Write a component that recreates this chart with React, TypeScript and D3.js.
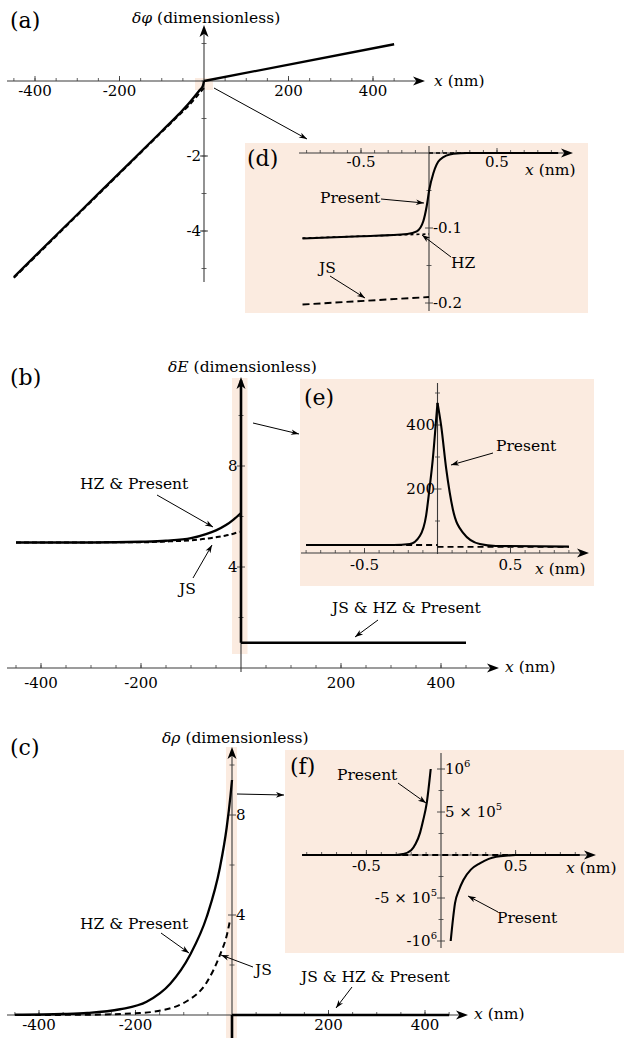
import * as d3 from 'd3';

type Pt = [number, number];

const FONT = "'DejaVu Serif', 'Liberation Serif', serif";
const SHADE = '#fbebe0';
const AXIS = '#3a3a3a';

// ---------- (a) delta phi, x in nm ----------
const phiXTicks = [-400, -200, 200, 400];
const phiYTicks = [-2, -4];
const phiPresentLeft: Pt[] = [
  [-450, -5.23], [-400, -4.67], [-300, -3.56], [-200, -2.45], [-100, -1.34],
  [-60, -0.89], [-40, -0.65], [-20, -0.38], [-10, -0.24], [-3, -0.14], [0, 0],
];
const phiJsLeft: Pt[] = [
  [-450, -5.25], [-300, -3.58], [-200, -2.47], [-100, -1.36], [-60, -0.92],
  [-40, -0.7], [-20, -0.45], [-10, -0.31], [0, -0.19],
];
const phiRight: Pt[] = [[0, 0], [450, 0.98]];

// ---------- (d) inset, x in nm ----------
const dXTicks = [-0.5, 0.5];
const dYTicks = [-0.1, -0.2];
const phiPresentNm: Pt[] = [
  [-0.93, -0.114], [-0.5, -0.111], [-0.16, -0.108], [-0.09, -0.1045], [-0.042, -0.091],
  [-0.017, -0.071], [0.002, -0.049], [0.032, -0.027], [0.08, -0.009], [0.18, -0.001],
  [0.28, 0], [0.95, 0],
];
const phiHzNm: Pt[] = [[-0.93, -0.1135], [0, -0.108]];
const phiHzZeroNm: Pt[] = [[0, 0], [0.3, 0]];
const phiJsNm: Pt[] = [[-0.93, -0.202], [0, -0.192]];

// ---------- (b) delta E ----------
const eXTicks = [-400, -200, 200, 400];
const eYTicks = [4, 8];
const ePresentLeft: Pt[] = [
  [-450, 4.97], [-300, 4.97], [-200, 5.0], [-150, 5.04], [-100, 5.14], [-70, 5.3],
  [-50, 5.45], [-30, 5.66], [-15, 5.88], [0, 6.14],
];
const eJsLeft: Pt[] = [
  [-450, 4.97], [-200, 4.98], [-150, 5.01], [-100, 5.06], [-70, 5.12], [-50, 5.18],
  [-30, 5.25], [-15, 5.32], [-3, 5.4],
];
const eSpike: Pt[] = [[0, 1], [0, 11.4]];
const eRight: Pt[] = [[0, 1], [450, 1]];

// ---------- (e) inset ----------
const eNmXTicks = [-0.5, 0.5];
const eNmYTicks = [200, 400];
const eNmPresentLeft: Pt[] = [
  [-0.9, 25], [-0.3, 25], [-0.19, 28], [-0.12, 54], [-0.078, 117], [-0.055, 200],
  [-0.032, 294], [-0.009, 419], [0, 469],
];
const eNmPresentRight: Pt[] = [
  [0, 469], [0.025, 398], [0.06, 262], [0.105, 137], [0.174, 64], [0.29, 28], [0.4, 22], [0.9, 20],
];
const eNmJsLeft: Pt[] = [[-0.9, 25], [0, 25]];
const eNmJsRight: Pt[] = [[0, 19], [0.9, 19]];

// ---------- (c) delta rho ----------
const rhoXTicks = [-400, -200, 200, 400];
const rhoYTicks = [4, 8];
const rhoPresentLeft: Pt[] = [
  [-450, 0.01], [-350, 0.04], [-300, 0.08], [-232, 0.23], [-177, 0.53], [-128, 1.25],
  [-87, 2.4], [-52, 3.95], [-25, 5.9], [-11, 7.5], [-3, 8.8], [0, 9.4],
];
const rhoJsLeft: Pt[] = [
  [-450, 0], [-300, 0.01], [-250, 0.03], [-200, 0.07], [-163, 0.13], [-94, 0.55],
  [-52, 1.32], [-25, 2.4], [-10, 3.25], [-4, 3.8],
];
const rhoSpike: Pt[] = [[0, 0], [0, -1]];
const rhoRight: Pt[] = [[0, 0], [450, 0]];

// ---------- (f) inset, y in units of 10^6 ----------
const fXTicks = [-0.5, 0.5];
const fYTicks = [1, 0.5, -0.5, -1];
const fYLabels = [['', '6'], ['5 × ', '5'], ['-5 × ', '5'], ['-', '6']];
const rhoNmPresentLeft: Pt[] = [
  [-0.93, 0], [-0.3, 0], [-0.255, 0.01], [-0.2, 0.055], [-0.17, 0.13], [-0.14, 0.26],
  [-0.12, 0.4], [-0.096, 0.6], [-0.069, 1.0],
];
const rhoNmPresentRight: Pt[] = [
  [0.065, -1.0], [0.08, -0.75], [0.094, -0.56], [0.12, -0.41], [0.15, -0.29], [0.2, -0.17],
  [0.26, -0.097], [0.32, -0.045], [0.37, -0.02], [0.45, -0.005], [0.5, 0], [0.93, 0],
];
const rhoNmZero: Pt[] = [[-0.93, 0], [0.93, 0]];

const xA = d3.scaleLinear().domain([0, 200]).range([204, 288.5]);
const yA = d3.scaleLinear().domain([0, -2]).range([81, 156]);
const xD = d3.scaleLinear().domain([0, 0.5]).range([429, 497]);
const yD = d3.scaleLinear().domain([0, -0.1]).range([153, 228]);
const xB = d3.scaleLinear().domain([0, 200]).range([241, 341]);
const yB = d3.scaleLinear().domain([0, 4]).range([668, 567]);
const xE = d3.scaleLinear().domain([0, 0.5]).range([437.5, 510.5]);
const yE = d3.scaleLinear().domain([0, 200]).range([553, 489]);
const xC = d3.scaleLinear().domain([0, 200]).range([232, 328.5]);
const yC = d3.scaleLinear().domain([0, 4]).range([1015, 915]);
const xF = d3.scaleLinear().domain([0, 0.5]).range([441, 515.6]);
const yF = d3.scaleLinear().domain([0, 1]).range([855, 769]);

type Scale = d3.ScaleLinear<number, number>;

const mainMinorX = d3.range(-9, 10).filter((i) => i !== 0).map((i) => i * 50);
const insetMinorX = d3.range(-9, 10).filter((i) => i !== 0).map((i) => i / 10);

// font sizes
const FS_PANEL = 22;
const FS_TITLE = 15.5;
const FS_NOTE = 15.5;
const FS_TICK = 15;

function path(sx: Scale, sy: Scale, data: Pt[], smooth = true) {
  return d3
    .line<Pt>()
    .x((d) => sx(d[0]))
    .y((d) => sy(d[1]))
    .curve(smooth ? d3.curveMonotoneX : d3.curveLinear)(data) || '';
}

function Head({ x, y, angle, len = 12, w = 4.5 }: { x: number; y: number; angle: number; len?: number; w?: number }) {
  return (
    <path
      d={`M0,0 L${-len},${-w} L${-len * 0.72},0 L${-len},${w} Z`}
      transform={`translate(${x},${y}) rotate(${angle})`}
      fill="#000"
    />
  );
}

function Pointer({ x1, y1, x2, y2 }: { x1: number; y1: number; x2: number; y2: number }) {
  const a = (Math.atan2(y2 - y1, x2 - x1) * 180) / Math.PI;
  return (
    <g>
      <line x1={x1} y1={y1} x2={x2} y2={y2} stroke="#000" strokeWidth={1} />
      <Head x={x2} y={y2} angle={a} len={8} w={2.8} />
    </g>
  );
}

function XAxis({
  sx, y, from, to, major, minor, labelY,
}: { sx: Scale; y: number; from: number; to: number; major: number[]; minor: number[]; labelY: number }) {
  return (
    <g>
      <line x1={from} y1={y} x2={to - 6} y2={y} stroke={AXIS} strokeWidth={1.1} />
      <Head x={to} y={y} angle={0} />
      {minor.map((v) => (
        <line key={'m' + v} x1={sx(v)} x2={sx(v)} y1={y} y2={y - 3} stroke={AXIS} strokeWidth={0.8} />
      ))}
      {major.map((v) => (
        <g key={v}>
          <line x1={sx(v)} x2={sx(v)} y1={y} y2={y - 5} stroke={AXIS} strokeWidth={0.9} />
          <text x={sx(v)} y={labelY} dy="0.35em" textAnchor="middle" fontSize={FS_TICK} style={{ fontFamily: FONT }}>
            {String(v)}
          </text>
        </g>
      ))}
    </g>
  );
}

function YAxis({
  sy, x, from, to, arrow, major, minor,
}: { sy: Scale; x: number; from: number; to: number; arrow: boolean; major: number[]; minor: number[] }) {
  return (
    <g>
      <line x1={x} y1={from} x2={x} y2={arrow ? to + 6 : to} stroke={AXIS} strokeWidth={1.1} />
      {arrow && <Head x={x} y={to} angle={-90} />}
      {minor.map((v) => (
        <line key={'m' + v} x1={x - 2.5} x2={x + 2.5} y1={sy(v)} y2={sy(v)} stroke={AXIS} strokeWidth={0.8} />
      ))}
      {major.map((v) => (
        <line key={v} x1={x - 4} x2={x + 4} y1={sy(v)} y2={sy(v)} stroke={AXIS} strokeWidth={0.9} />
      ))}
    </g>
  );
}

function T({
  x, y, size = FS_TITLE, anchor = 'start', children,
}: { x: number; y: number; size?: number; anchor?: string; children: any }) {
  return (
    <text x={x} y={y} dy="0.35em" fontSize={size} textAnchor={anchor as any} style={{ fontFamily: FONT }}>
      {children}
    </text>
  );
}

const I = ({ children }: { children: any }) => <tspan fontStyle="italic">{children}</tspan>;

const solid = { fill: 'none', stroke: '#000', strokeWidth: 2.3, strokeLinejoin: 'round' as const };
const thin = { fill: 'none', stroke: '#000', strokeWidth: 1.9 };

export default function App() {
  return (
    <div style={{ position: 'absolute', left: 0, top: 0 }}>
      <svg width={624} height={1038} style={{ display: 'block', background: '#fff', fontFamily: FONT }}>
        {/* ===== (a) ===== */}
        <rect x={195} y={78} width={18} height={12} fill={SHADE} />
        <XAxis sx={xA} y={81} from={7} to={425} major={phiXTicks} minor={mainMinorX} labelY={91} />
        <YAxis sy={yA} x={204} from={282} to={25} arrow major={phiYTicks} minor={d3.range(-5, 2)} />
        {phiYTicks.map((v) => (
          <T key={v} x={201} y={yA(v)} size={FS_TICK} anchor="end">{String(v)}</T>
        ))}
        <path d={path(xA, yA, phiJsLeft)} {...solid} strokeWidth={2} strokeDasharray="5,3" />
        <path d={path(xA, yA, phiPresentLeft)} {...solid} />
        <path d={path(xA, yA, phiRight, false)} {...solid} />
        <T x={10} y={20} size={FS_PANEL}>(a)</T>
        <T x={132} y={18}><I>δφ</I> (dimensionless)</T>
        <T x={434} y={81}><I>x</I> (nm)</T>
        <Pointer x1={214} y1={88} x2={307} y2={139} />

        {/* ===== (d) inset ===== */}
        <rect x={245} y={143} width={343} height={170} fill={SHADE} />
        <XAxis sx={xD} y={153} from={299} to={573} major={dXTicks} minor={insetMinorX} labelY={162} />
        <YAxis sy={yD} x={429} from={311} to={146} arrow={false} major={dYTicks} minor={[-0.05, -0.15]} />
        {dYTicks.map((v) => (
          <T key={v} x={433} y={yD(v)} size={FS_TICK}>{String(v)}</T>
        ))}
        <path d={path(xD, yD, phiJsNm, false)} {...thin} strokeDasharray="7,4" />
        <path d={path(xD, yD, phiHzNm, false)} {...thin} strokeWidth={1.6} strokeDasharray="3,3" />
        <path d={path(xD, yD, phiHzZeroNm, false)} {...thin} strokeWidth={1.6} strokeDasharray="4,3" />
        <path d={path(xD, yD, phiPresentNm)} {...thin} strokeWidth={2.1} />
        <T x={247} y={158} size={FS_PANEL}>(d)</T>
        <T x={525} y={170}><I>x</I> (nm)</T>
        <T x={320} y={198} size={FS_NOTE}>Present</T>
        <Pointer x1={381} y1={199} x2={424} y2={203} />
        <T x={451} y={263} size={FS_NOTE}>HZ</T>
        <Pointer x1={451} y1={257} x2={422} y2={235} />
        <T x={319} y={268} size={FS_NOTE}>JS</T>
        <Pointer x1={330} y1={276} x2={365} y2={298} />

        {/* ===== (b) ===== */}
        <rect x={232} y={378} width={15.5} height={276} fill={SHADE} />
        <XAxis sx={xB} y={668} from={7} to={499} major={eXTicks} minor={mainMinorX} labelY={683} />
        <YAxis sy={yB} x={241} from={672} to={377} arrow major={eYTicks} minor={[2, 6, 10]} />
        {eYTicks.map((v) => (
          <T key={v} x={237.5} y={yB(v)} size={FS_TICK} anchor="end">{String(v)}</T>
        ))}
        <path d={path(xB, yB, eJsLeft)} {...solid} strokeWidth={2} strokeDasharray="5,3" />
        <path d={path(xB, yB, ePresentLeft)} {...solid} />
        <path d={path(xB, yB, eSpike, false)} {...solid} strokeWidth={2.6} />
        <path d={path(xB, yB, eRight, false)} {...solid} />
        <T x={10} y={377} size={FS_PANEL}>(b)</T>
        <T x={168} y={367}><I>δE</I> (dimensionless)</T>
        <T x={505} y={667}><I>x</I> (nm)</T>
        <T x={80} y={484} size={FS_NOTE}>HZ &amp; Present</T>
        <Pointer x1={157} y1={495} x2={213} y2={527} />
        <T x={179} y={589} size={FS_NOTE}>JS</T>
        <Pointer x1={193} y1={578} x2={212} y2={545} />
        <T x={332} y={608} size={FS_NOTE}>JS &amp; HZ &amp; Present</T>
        <Pointer x1={378} y1={620} x2={355} y2={637} />
        <Pointer x1={253} y1={423} x2={299} y2={434} />

        {/* ===== (e) inset ===== */}
        <rect x={300} y={379} width={294} height={207} fill={SHADE} />
        <XAxis sx={xE} y={553} from={301} to={589} major={eNmXTicks} minor={insetMinorX} labelY={565} />
        <YAxis sy={yE} x={437.5} from={554} to={383} arrow={false} major={eNmYTicks} minor={[100, 300, 500]} />
        {eNmYTicks.map((v) => (
          <T key={v} x={435} y={yE(v)} size={FS_TICK} anchor="end">{String(v)}</T>
        ))}
        <path d={path(xE, yE, eNmJsLeft, false)} {...thin} strokeDasharray="6,4" />
        <path d={path(xE, yE, eNmJsRight, false)} {...thin} strokeDasharray="6,4" />
        <path d={path(xE, yE, eNmPresentLeft)} {...thin} strokeWidth={2.1} />
        <path d={path(xE, yE, eNmPresentRight)} {...thin} strokeWidth={2.1} />
        <T x={304} y={397} size={FS_PANEL}>(e)</T>
        <T x={535} y={569}><I>x</I> (nm)</T>
        <T x={496} y={446} size={FS_NOTE}>Present</T>
        <Pointer x1={493} y1={453} x2={451} y2={465} />

        {/* ===== (c) ===== */}
        <rect x={226} y={747} width={11} height={291} fill={SHADE} />
        <XAxis sx={xC} y={1015} from={7} to={468} major={rhoXTicks} minor={mainMinorX} labelY={1025} />
        <YAxis sy={yC} x={232} from={1015} to={747} arrow major={rhoYTicks} minor={[2, 6, 10]} />
        {rhoYTicks.map((v) => (
          <T key={v} x={236} y={yC(v)} size={FS_TICK}>{String(v)}</T>
        ))}
        <path d={path(xC, yC, rhoJsLeft)} {...solid} strokeWidth={2} strokeDasharray="6,4" />
        <path d={path(xC, yC, rhoPresentLeft)} {...solid} />
        <path d={path(xC, yC, rhoSpike, false)} {...solid} strokeWidth={2.6} />
        <path d={path(xC, yC, rhoRight, false)} {...solid} />
        <T x={10} y={747} size={FS_PANEL}>(c)</T>
        <T x={162} y={738}><I>δρ</I> (dimensionless)</T>
        <T x={474} y={1014}><I>x</I> (nm)</T>
        <T x={80} y={924} size={FS_NOTE}>HZ &amp; Present</T>
        <Pointer x1={161} y1={933} x2={189} y2={953} />
        <T x={255} y={970} size={FS_NOTE}>JS</T>
        <Pointer x1={253} y1={967} x2={221} y2={955} />
        <T x={301} y={977} size={FS_NOTE}>JS &amp; HZ &amp; Present</T>
        <Pointer x1={352} y1={987} x2={336} y2={1008} />
        <Pointer x1={237} y1={794} x2={284} y2={795} />

        {/* ===== (f) inset ===== */}
        <rect x={285} y={750} width={339} height={203} fill={SHADE} />
        <XAxis sx={xF} y={855} from={302} to={596} major={fXTicks} minor={insetMinorX} labelY={866} />
        <YAxis sy={yF} x={441} from={948} to={753} arrow={false} major={fYTicks} minor={[0.25, 0.75, -0.25, -0.75]} />
        {fYTicks.map((v, i) => (
          <text
            key={v}
            x={v > 0 ? 445 : 437}
            y={yF(v)}
            dy="0.35em"
            fontSize={FS_TICK}
            textAnchor={v > 0 ? 'start' : 'end'}
            style={{ fontFamily: FONT }}
          >
            {fYLabels[i][0]}10
            <tspan dy={-7} fontSize={10}>{fYLabels[i][1]}</tspan>
          </text>
        ))}
        <path d={path(xF, yF, rhoNmZero, false)} {...thin} strokeDasharray="6,4" />
        <path d={path(xF, yF, rhoNmPresentLeft)} {...thin} strokeWidth={2.1} />
        <path d={path(xF, yF, rhoNmPresentRight)} {...thin} strokeWidth={2.1} />
        <T x={290} y={766} size={FS_PANEL}>(f)</T>
        <T x={566} y={868}><I>x</I> (nm)</T>
        <T x={337} y={775} size={FS_NOTE}>Present</T>
        <Pointer x1={398} y1={783} x2={426} y2={803} />
        <T x={497} y={918} size={FS_NOTE}>Present</T>
        <Pointer x1={498} y1={912} x2={468} y2={896} />
      </svg>
    </div>
  );
}
